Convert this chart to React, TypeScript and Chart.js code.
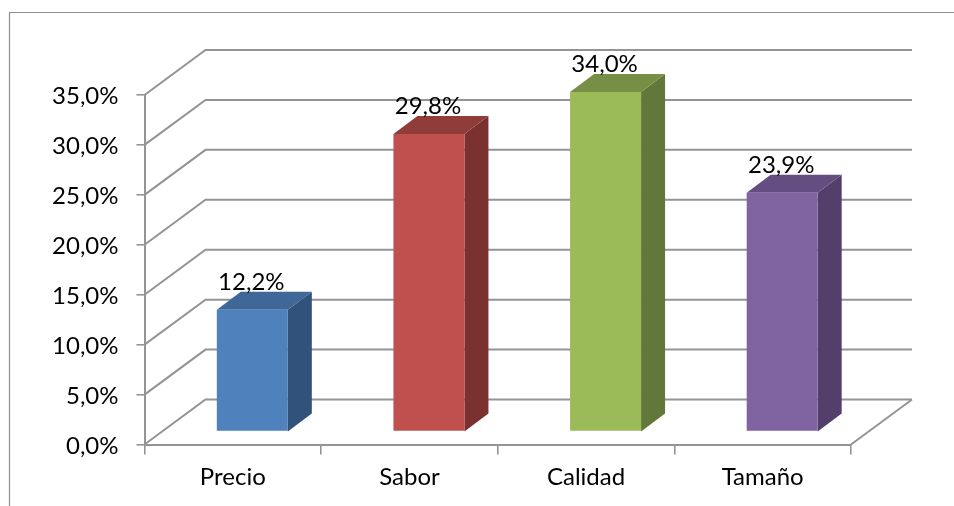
import React, { useEffect, useRef } from "react";
import { Chart, registerables } from "chart.js";

Chart.register(...registerables);

const categories = ["Precio", "Sabor", "Calidad", "Tamaño"];
const values = [12.2, 29.8, 34.0, 23.9];
const frontColors = ["#4F81BD", "#C0504D", "#9BBB59", "#8064A2"];
const topColors = ["#3F6797", "#8F3C3A", "#768F45", "#644D80"];
const sideColors = ["#30527B", "#7A312F", "#62783A", "#543F6C"];
const yTicks = [0, 5, 10, 15, 20, 25, 30, 35];

const GRID = "#949494";
const FONT = "Lato";
const comma = (v: number) => v.toFixed(1).replace(".", ",") + "%";

const WALL_DX = 61;
const WALL_DY = -45;
const BAR_DX = 19.5;
const BAR_DY = -13;
const BAR_DEPTH_X = 24;
const BAR_DEPTH_Y = -18;

const frame3d = {
  id: "frame3d",
  beforeDatasetsDraw(chart: any) {
    const { ctx, scales, chartArea } = chart;
    const y = scales.y;
    const l = chartArea.left;
    const r = chartArea.right;
    ctx.save();
    ctx.strokeStyle = GRID;
    ctx.lineWidth = 2;
    yTicks.forEach((t) => {
      const py = y.getPixelForValue(t);
      ctx.beginPath();
      ctx.moveTo(l, py);
      ctx.lineTo(l + WALL_DX, py + WALL_DY);
      ctx.lineTo(r + WALL_DX, py + WALL_DY);
      ctx.stroke();
    });
    const y0 = y.getPixelForValue(0);
    ctx.beginPath();
    ctx.moveTo(r, y0);
    ctx.lineTo(r + WALL_DX, y0 + WALL_DY);
    ctx.stroke();
    ctx.restore();
  },
};

const bars3d = {
  id: "bars3d",
  beforeDatasetDraw(chart: any) {
    const { ctx, scales } = chart;
    const meta = chart.getDatasetMeta(0);
    const base = scales.y.getPixelForValue(0) + BAR_DY;
    ctx.save();
    meta.data.forEach((bar: any, i: number) => {
      const x1 = bar.x - bar.width / 2 + BAR_DX;
      const x2 = bar.x + bar.width / 2 + BAR_DX;
      const top = bar.y + BAR_DY;
      ctx.fillStyle = sideColors[i];
      ctx.beginPath();
      ctx.moveTo(x2, top);
      ctx.lineTo(x2 + BAR_DEPTH_X, top + BAR_DEPTH_Y);
      ctx.lineTo(x2 + BAR_DEPTH_X, base + BAR_DEPTH_Y);
      ctx.lineTo(x2, base);
      ctx.closePath();
      ctx.fill();
      ctx.fillStyle = topColors[i];
      ctx.beginPath();
      ctx.moveTo(x1, top);
      ctx.lineTo(x1 + BAR_DEPTH_X, top + BAR_DEPTH_Y);
      ctx.lineTo(x2 + BAR_DEPTH_X, top + BAR_DEPTH_Y);
      ctx.lineTo(x2, top);
      ctx.closePath();
      ctx.fill();
    });
    ctx.restore();
    ctx.save();
    ctx.translate(BAR_DX, BAR_DY);
  },
  afterDatasetDraw(chart: any) {
    chart.ctx.restore();
  },
  afterDatasetsDraw(chart: any) {
    const { ctx } = chart;
    const meta = chart.getDatasetMeta(0);
    ctx.save();
    ctx.fillStyle = "#000";
    ctx.font = `24px ${FONT}`;
    ctx.textAlign = "center";
    ctx.textBaseline = "alphabetic";
    meta.data.forEach((bar: any, i: number) => {
      ctx.fillText(comma(values[i]), bar.x + BAR_DX - 1, bar.y - 33);
    });
    ctx.restore();
  },
};

const outerFrame = {
  id: "outerFrame",
  beforeDraw(chart: any) {
    const { ctx, width, height } = chart;
    ctx.save();
    ctx.fillStyle = "#fff";
    ctx.fillRect(0, 0, width, height);
    ctx.strokeStyle = "#8E8E8E";
    ctx.lineWidth = 1.2;
    ctx.beginPath();
    ctx.moveTo(9.5, height);
    ctx.lineTo(9.5, 12.5);
    ctx.lineTo(width, 12.5);
    ctx.stroke();
    ctx.restore();
  },
};

export default function App() {
  const ref = useRef<HTMLCanvasElement>(null);
  useEffect(() => {
    const chart = new Chart(ref.current!, {
      type: "bar",
      data: {
        labels: categories,
        datasets: [
          {
            data: values,
            backgroundColor: frontColors,
            barPercentage: 0.402,
            categoryPercentage: 1,
          },
        ],
      },
      options: {
        responsive: false,
        animation: false,
        layout: { padding: { left: 0, right: 103, top: 95, bottom: 0 } },
        plugins: { legend: { display: false }, tooltip: { enabled: false } },
        scales: {
          x: {
            afterFit(scale: any) {
              scale.height = 61.5;
            },
            grid: { display: true, color: GRID, lineWidth: 1.6, drawOnChartArea: false, tickLength: 10 },
            border: { color: GRID, width: 2 },
            ticks: { color: "#000", font: { family: FONT, size: 24 }, padding: 8, maxRotation: 0 },
          },
          y: {
            min: 0,
            max: 35,
            afterFit(scale: any) {
              scale.width = 144.5;
            },
            grid: { display: true, color: GRID, lineWidth: 1.6, drawOnChartArea: false, tickLength: 8 },
            border: { color: GRID, width: 2 },
            ticks: {
              stepSize: 5,
              color: "#000",
              font: { family: FONT, size: 24 },
              padding: 18,
              labelOffset: 1.5,
              callback: (v: any) => comma(Number(v)),
            },
          },
        },
      },
      plugins: [outerFrame, frame3d, bars3d],
    });
    return () => chart.destroy();
  }, []);
  return (
    <div style={{ position: "fixed", left: 0, top: 0, width: 954, height: 506, background: "#fff" }}>
      <canvas ref={ref} width={954} height={506} style={{ display: "block" }} />
    </div>
  );
}
